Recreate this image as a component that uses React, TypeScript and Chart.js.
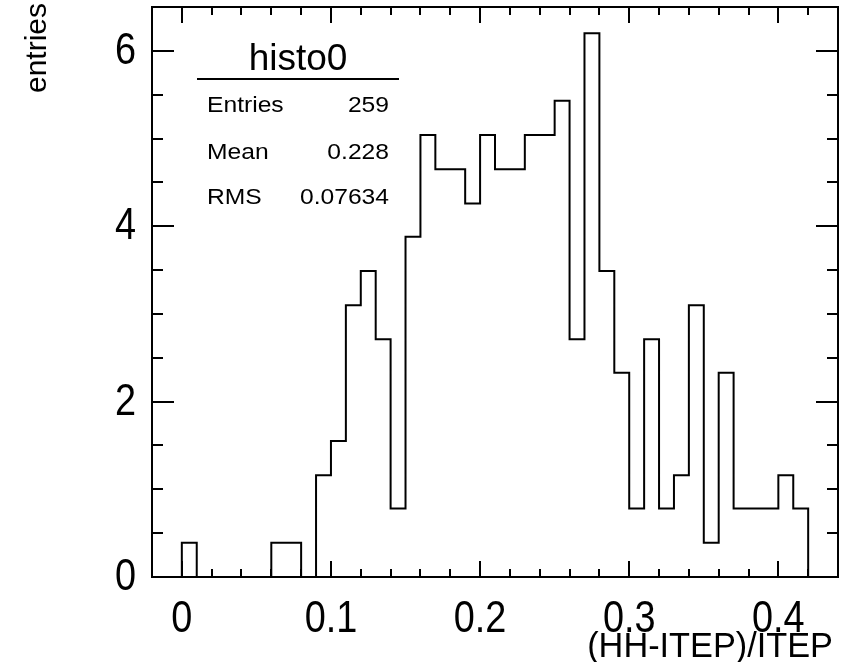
import React, { useEffect, useRef } from 'react';
import { Chart, registerables } from 'chart.js';

Chart.register(...registerables);

// Histogram binning: 46 bins of width 0.01 starting at -0.02
const BIN_MIN = -0.02;
const BIN_WIDTH = 0.01;
const BIN_CONTENTS = [
  0, 0, 0.39, 0, 0, 0, 0, 0, 0.39, 0.39,
  0, 1.16, 1.55, 3.10, 3.49, 2.71, 0.78, 3.88, 5.04, 4.65,
  4.65, 4.26, 5.04, 4.65, 4.65, 5.04, 5.04, 5.43, 2.71, 6.20,
  3.49, 2.33, 0.78, 2.71, 0.78, 1.16, 3.10, 0.39, 2.33, 0.78,
  0.78, 0.78, 1.16, 0.78, 0, 0,
];

const X_MIN = -0.02;
const X_MAX = 0.44;
const Y_MIN = 0;
const Y_MAX = 6.5;

const X_MAJOR_TICKS = [0, 0.1, 0.2, 0.3, 0.4];
const X_TICK_LABELS = ['0', '0.1', '0.2', '0.3', '0.4'];
const X_MINOR_STEP = 0.02;
const Y_MAJOR_TICKS = [0, 2, 4, 6];
const Y_TICK_LABELS = ['0', '2', '4', '6'];
const Y_MINOR_STEP = 0.5;

const X_TITLE = '(HH-ITEP)/ITEP';
const Y_TITLE = 'entries';
const STATS_TITLE = 'histo0';
const STATS_LABELS = ['Entries', 'Mean', 'RMS'];
const STATS_VALUES = ['259', '0.228', '0.07634'];

const FONT = '"Liberation Sans", Arial, Helvetica, sans-serif';

function drawScaledText(
  ctx: CanvasRenderingContext2D,
  text: string,
  x: number,
  y: number,
  sx: number,
  sy: number,
) {
  ctx.save();
  ctx.translate(x, y);
  ctx.scale(sx, sy);
  ctx.fillText(text, 0, 0);
  ctx.restore();
}

const rootStylePlugin = {
  id: 'rootStyle',
  afterDraw(chart: any) {
    const ctx = chart.ctx as CanvasRenderingContext2D;
    const xs = chart.scales.x;
    const ys = chart.scales.y;
    const { left, right, top, bottom } = chart.chartArea;
    ctx.save();
    ctx.strokeStyle = '#000';
    ctx.fillStyle = '#000';
    ctx.lineWidth = 2;
    ctx.lineCap = 'butt';
    // frame
    ctx.strokeRect(left, top, right - left, bottom - top);

    // x ticks (top and bottom, inward)
    ctx.beginPath();
    const nx = Math.round((X_MAX - X_MIN) / X_MINOR_STEP);
    for (let i = 0; i <= nx; i++) {
      const v = X_MIN + i * X_MINOR_STEP;
      const isMajor = X_MAJOR_TICKS.some((m) => Math.abs(m - v) < 1e-6);
      const len = isMajor ? 16 : 8;
      const px = Math.round(xs.getPixelForValue(v));
      if (px <= left + 1 || px >= right - 1) continue;
      ctx.moveTo(px, bottom);
      ctx.lineTo(px, bottom - len);
      ctx.moveTo(px, top);
      ctx.lineTo(px, top + len);
    }
    // y ticks (left and right, inward)
    const ny = Math.floor((Y_MAX - Y_MIN) / Y_MINOR_STEP + 1e-6);
    for (let i = 0; i <= ny; i++) {
      const v = Y_MIN + i * Y_MINOR_STEP;
      const isMajor = Y_MAJOR_TICKS.some((m) => Math.abs(m - v) < 1e-6);
      const len = isMajor ? 22 : 11;
      const py = Math.round(ys.getPixelForValue(v));
      if (py <= top + 1 || py >= bottom - 1) continue;
      ctx.moveTo(left, py);
      ctx.lineTo(left + len, py);
      ctx.moveTo(right, py);
      ctx.lineTo(right - len, py);
    }
    ctx.stroke();

    // tick labels (slightly condensed, tall glyphs)
    ctx.font = `44px ${FONT}`;
    ctx.textAlign = 'center';
    ctx.textBaseline = 'alphabetic';
    X_MAJOR_TICKS.forEach((v, i) => {
      drawScaledText(ctx, X_TICK_LABELS[i], xs.getPixelForValue(v), 632, 0.86, 1);
    });
    ctx.textAlign = 'right';
    ctx.textBaseline = 'middle';
    Y_MAJOR_TICKS.forEach((v, i) => {
      drawScaledText(ctx, Y_TICK_LABELS[i], 136, ys.getPixelForValue(v) + 1, 0.86, 1);
    });

    // axis titles
    ctx.font = `35px ${FONT}`;
    ctx.textAlign = 'right';
    ctx.textBaseline = 'alphabetic';
    drawScaledText(ctx, X_TITLE, 833, 657, 0.98, 1);

    ctx.save();
    ctx.translate(46, 3);
    ctx.rotate(-Math.PI / 2);
    ctx.font = `30px ${FONT}`;
    ctx.textAlign = 'right';
    ctx.textBaseline = 'alphabetic';
    ctx.fillText(Y_TITLE, 0, 0);
    ctx.restore();

    // stats box
    ctx.font = `37px ${FONT}`;
    ctx.textAlign = 'center';
    ctx.fillText(STATS_TITLE, 298, 70);
    ctx.lineWidth = 2;
    ctx.beginPath();
    ctx.moveTo(197, 79);
    ctx.lineTo(399, 79);
    ctx.stroke();
    ctx.font = `22px ${FONT}`;
    const baselines = [112, 159, 204];
    STATS_LABELS.forEach((lab, i) => {
      ctx.textAlign = 'left';
      drawScaledText(ctx, lab, 207, baselines[i], 1.12, 1);
      ctx.textAlign = 'right';
      drawScaledText(ctx, STATS_VALUES[i], 389, baselines[i], 1.12, 1);
    });
    ctx.restore();
  },
};

export default function App() {
  const canvasRef = useRef<HTMLCanvasElement | null>(null);

  useEffect(() => {
    if (!canvasRef.current) return;
    const points = BIN_CONTENTS.map((y, i) => ({ x: BIN_MIN + i * BIN_WIDTH, y }));
    points.push({ x: BIN_MIN + BIN_CONTENTS.length * BIN_WIDTH, y: BIN_CONTENTS[BIN_CONTENTS.length - 1] });

    const chart = new Chart(canvasRef.current, {
      type: 'line',
      data: {
        datasets: [
          {
            label: STATS_TITLE,
            data: points,
            stepped: 'before',
            borderColor: '#000',
            borderWidth: 2,
            pointRadius: 0,
            fill: false,
          },
        ],
      },
      options: {
        animation: false,
        responsive: false,
        devicePixelRatio: 1,
        events: [],
        layout: { padding: { left: 152, right: 10, top: 7, bottom: 85 } },
        plugins: {
          legend: { display: false },
          tooltip: { enabled: false },
          title: { display: false },
        },
        scales: {
          x: { type: 'linear', min: X_MIN, max: X_MAX, display: false },
          y: { type: 'linear', min: Y_MIN, max: Y_MAX, display: false },
        },
      },
      plugins: [rootStylePlugin],
    });
    return () => chart.destroy();
  }, []);

  return (
    <div style={{ position: 'fixed', left: 0, top: 0, width: 848, height: 662, background: '#fff' }}>
      <canvas ref={canvasRef} width={848} height={662} style={{ display: 'block' }} />
    </div>
  );
}
